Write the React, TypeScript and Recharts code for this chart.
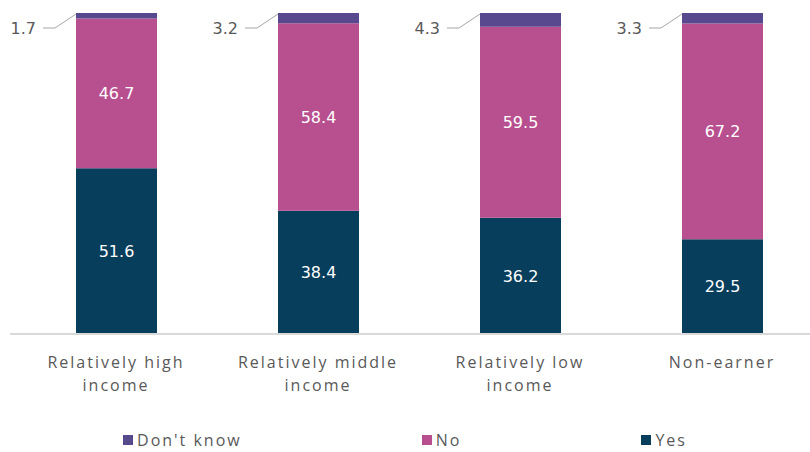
import { BarChart, Bar, XAxis, YAxis, Legend, LabelList } from 'recharts'

const categories = ['Relatively high income', 'Relatively middle income', 'Relatively low income', 'Non-earner']
const yes = [51.6, 38.4, 36.2, 29.5]
const no = [46.7, 58.4, 59.5, 67.2]
const dontKnow = [1.7, 3.2, 4.3, 3.3]

const COLORS = { yes: '#073E5C', no: '#B84F8F', dk: '#58498F' }
const TEXT = '#595959'
const FONT = '"DejaVu Sans", sans-serif'

const data = categories.map((name, i) => ({ name, yes: yes[i], no: no[i], dk: dontKnow[i] }))

const TICK_LINES: Record<string, string[]> = {
  'Relatively high income': ['Relatively high', 'income'],
  'Relatively middle income': ['Relatively middle', 'income'],
  'Relatively low income': ['Relatively low', 'income'],
  'Non-earner': ['Non-earner'],
}

function CategoryTick({ x, y, payload }: any) {
  const lines = TICK_LINES[payload.value] ?? [payload.value]
  return (
    <text x={x} y={y} textAnchor="middle" fill={TEXT} fontSize={16} fontFamily='"Open Sans", sans-serif' letterSpacing={2}>
      {lines.map((l, i) => (
        <tspan key={i} x={x} y={y + 26 + i * 23}>{l}</tspan>
      ))}
    </text>
  )
}

function DkLabel({ x, y, value }: any) {
  const cy = y + 15
  return (
    <g>
      <polyline points={`${x - 33},${cy} ${x - 21},${cy} ${x},${y + 1}`} fill="none" stroke="#a6a6a6" strokeWidth={1} />
      <text x={x - 40} y={cy} dy="0.35em" textAnchor="end" fill={TEXT} fontSize={16} fontFamily={FONT}>{value}</text>
    </g>
  )
}

const legendItems = [
  { key: 'dk', label: "Don't know" },
  { key: 'no', label: 'No' },
  { key: 'yes', label: 'Yes' },
]

function LegendContent() {
  return (
    <div style={{ display: 'flex', justifyContent: 'center', gap: 180, height: 24, alignItems: 'center' }}>
      {legendItems.map(it => (
        <div key={it.key} style={{ display: 'flex', alignItems: 'center', fontFamily: '"Open Sans", sans-serif', fontSize: 16, letterSpacing: 2, color: TEXT }}>
          <span style={{ width: 10, height: 10, background: COLORS[it.key as keyof typeof COLORS], marginRight: 4 }} />
          {it.label}
        </div>
      ))}
    </div>
  )
}

export default function App() {
  return (
    <div style={{ position: 'absolute', left: 0, top: 0, width: 810, height: 452, overflow: 'hidden', background: '#fff' }}>
      <BarChart width={830} height={452} data={data} margin={{ top: 13, right: 2, bottom: 0, left: 10 }} barSize={81}>
        <XAxis
          dataKey="name"
          tick={<CategoryTick />}
          tickLine={false}
          axisLine={{ stroke: '#d9d9d9', strokeWidth: 2 }}
          height={94}
          interval={0}
          padding={{ left: 5, right: 5 }}
        />
        <YAxis hide domain={[0, 100]} />
        <Legend content={<LegendContent />} verticalAlign="bottom" height={24} wrapperStyle={{ left: 0, width: 810 }} />
        <Bar dataKey="yes" stackId="a" fill={COLORS.yes} isAnimationActive={false}>
          <LabelList dataKey="yes" position="center" fill="#fff" fontSize={16} fontFamily={FONT} />
        </Bar>
        <Bar dataKey="no" stackId="a" fill={COLORS.no} isAnimationActive={false}>
          <LabelList dataKey="no" position="center" fill="#fff" fontSize={16} fontFamily={FONT} />
        </Bar>
        <Bar dataKey="dk" stackId="a" fill={COLORS.dk} isAnimationActive={false}>
          <LabelList dataKey="dk" content={<DkLabel />} />
        </Bar>
      </BarChart>
    </div>
  )
}
